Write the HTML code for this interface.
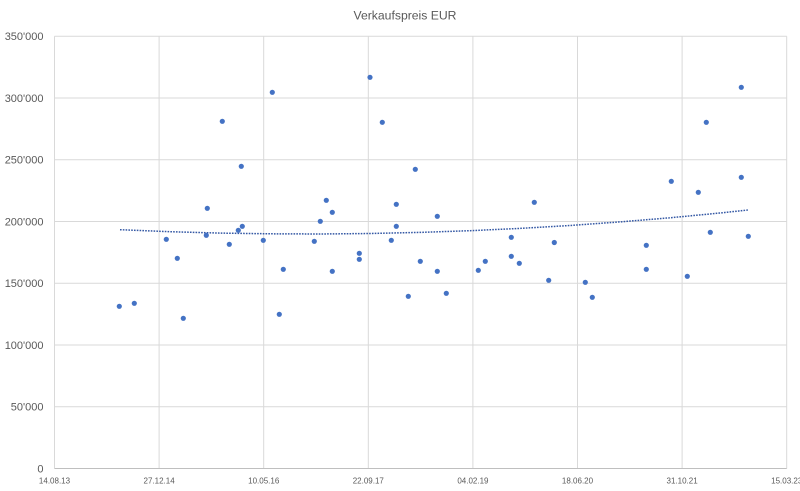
<!DOCTYPE html>
<html>
<head>
<meta charset="utf-8">
<style>
  html, body { margin: 0; padding: 0; background: #ffffff; }
  svg { display: block; }
  text { font-family: "Liberation Sans", Arial, sans-serif; fill: #595959; }
</style>
</head>
<body>
<svg width="800" height="491" viewBox="0 0 800 491" xmlns="http://www.w3.org/2000/svg">
  <rect x="0" y="0" width="800" height="491" fill="#ffffff"/>

  <text x="405" y="19.5" font-size="12.2" text-anchor="middle">Verkaufspreis EUR</text>

  <g stroke="#D9D9D9" stroke-width="1">
    <line x1="54.5" y1="36.25" x2="786.7" y2="36.25"/>
    <line x1="54.5" y1="98" x2="786.7" y2="98"/>
    <line x1="54.5" y1="159.75" x2="786.7" y2="159.75"/>
    <line x1="54.5" y1="221.5" x2="786.7" y2="221.5"/>
    <line x1="54.5" y1="283.25" x2="786.7" y2="283.25"/>
    <line x1="54.5" y1="345" x2="786.7" y2="345"/>
    <line x1="54.5" y1="406.75" x2="786.7" y2="406.75"/>
    <line x1="54.5" y1="36.25" x2="54.5" y2="468.5"/>
    <line x1="159.1" y1="36.25" x2="159.1" y2="468.5"/>
    <line x1="263.7" y1="36.25" x2="263.7" y2="468.5"/>
    <line x1="368.3" y1="36.25" x2="368.3" y2="468.5"/>
    <line x1="472.9" y1="36.25" x2="472.9" y2="468.5"/>
    <line x1="577.5" y1="36.25" x2="577.5" y2="468.5"/>
    <line x1="682.1" y1="36.25" x2="682.1" y2="468.5"/>
    <line x1="786.7" y1="36.25" x2="786.7" y2="468.5"/>
  </g>
  <line x1="54.5" y1="468.5" x2="786.7" y2="468.5" stroke="#BFBFBF" stroke-width="1"/>

  <g font-size="11" text-anchor="end">
    <text x="43.5" y="40">350'000</text>
    <text x="43.5" y="101.8">300'000</text>
    <text x="43.5" y="163.5">250'000</text>
    <text x="43.5" y="225.3">200'000</text>
    <text x="43.5" y="287">150'000</text>
    <text x="43.5" y="348.8">100'000</text>
    <text x="43.5" y="410.5">50'000</text>
    <text x="43.5" y="472.3">0</text>
  </g>

  <g font-size="8" text-anchor="middle">
    <text x="54.5" y="483.7">14.08.13</text>
    <text x="159.1" y="483.7">27.12.14</text>
    <text x="263.7" y="483.7">10.05.16</text>
    <text x="368.3" y="483.7">22.09.17</text>
    <text x="472.9" y="483.7">04.02.19</text>
    <text x="577.5" y="483.7">18.06.20</text>
    <text x="682.1" y="483.7">31.10.21</text>
    <text x="786.7" y="483.7">15.03.23</text>
  </g>

  <polyline fill="none" stroke="#3458A4" stroke-width="1.5" stroke-dasharray="1.6 1.2"
    points="120,229.7 170,231.7 220,233.1 270,233.8 320,234 370,233.5 420,232.4 470,230.7 520,228.4 570,225.5 620,221.9 670,217.8 720,213 748,210"/>

  <g fill="#4472C4">
    <circle cx="119.3" cy="306.3" r="2.6"/>
    <circle cx="134.3" cy="303.3" r="2.6"/>
    <circle cx="166.3" cy="239.3" r="2.6"/>
    <circle cx="177.3" cy="258.3" r="2.6"/>
    <circle cx="183.3" cy="318.3" r="2.6"/>
    <circle cx="206.3" cy="235.3" r="2.6"/>
    <circle cx="207.3" cy="208.3" r="2.6"/>
    <circle cx="222.3" cy="121.3" r="2.6"/>
    <circle cx="229.3" cy="244.3" r="2.6"/>
    <circle cx="238.3" cy="230.3" r="2.6"/>
    <circle cx="241.3" cy="166.3" r="2.6"/>
    <circle cx="242.3" cy="226.3" r="2.6"/>
    <circle cx="263.3" cy="240.3" r="2.6"/>
    <circle cx="272.3" cy="92.3" r="2.6"/>
    <circle cx="279.3" cy="314.3" r="2.6"/>
    <circle cx="283.3" cy="269.3" r="2.6"/>
    <circle cx="314.3" cy="241.3" r="2.6"/>
    <circle cx="320.3" cy="221.3" r="2.6"/>
    <circle cx="326.3" cy="200.3" r="2.6"/>
    <circle cx="332.3" cy="212.3" r="2.6"/>
    <circle cx="332.3" cy="271.3" r="2.6"/>
    <circle cx="359.3" cy="253.3" r="2.6"/>
    <circle cx="359.3" cy="259.3" r="2.6"/>
    <circle cx="370" cy="77.3" r="2.6"/>
    <circle cx="382.3" cy="122.3" r="2.6"/>
    <circle cx="391.3" cy="240.3" r="2.6"/>
    <circle cx="396.3" cy="204.3" r="2.6"/>
    <circle cx="396.3" cy="226.3" r="2.6"/>
    <circle cx="408.3" cy="296.3" r="2.6"/>
    <circle cx="415.3" cy="169.3" r="2.6"/>
    <circle cx="420.3" cy="261.3" r="2.6"/>
    <circle cx="437.3" cy="216.3" r="2.6"/>
    <circle cx="437.3" cy="271.3" r="2.6"/>
    <circle cx="446.3" cy="293.3" r="2.6"/>
    <circle cx="478.3" cy="270.3" r="2.6"/>
    <circle cx="485.3" cy="261.3" r="2.6"/>
    <circle cx="511.3" cy="237.3" r="2.6"/>
    <circle cx="511.3" cy="256.3" r="2.6"/>
    <circle cx="519.3" cy="263.3" r="2.6"/>
    <circle cx="534.3" cy="202.3" r="2.6"/>
    <circle cx="548.7" cy="280.3" r="2.6"/>
    <circle cx="554.3" cy="242.5" r="2.6"/>
    <circle cx="585.3" cy="282.3" r="2.6"/>
    <circle cx="592.3" cy="297.3" r="2.6"/>
    <circle cx="646.3" cy="245.3" r="2.6"/>
    <circle cx="646.3" cy="269.3" r="2.6"/>
    <circle cx="671.3" cy="181.3" r="2.6"/>
    <circle cx="687.3" cy="276.3" r="2.6"/>
    <circle cx="698.3" cy="192.3" r="2.6"/>
    <circle cx="706.3" cy="122.3" r="2.6"/>
    <circle cx="710.3" cy="232.3" r="2.6"/>
    <circle cx="741.3" cy="87.3" r="2.6"/>
    <circle cx="741.3" cy="177.3" r="2.6"/>
    <circle cx="748.3" cy="236.3" r="2.6"/>
  </g>
</svg>
</body>
</html>
